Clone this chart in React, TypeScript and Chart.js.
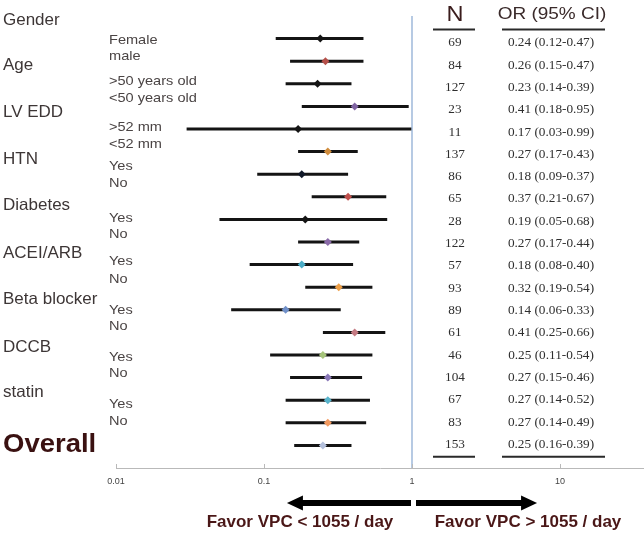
import React, { useEffect, useRef } from 'react';
import { Chart, registerables } from 'chart.js';

Chart.register(...registerables);

// ---------- data ----------
const groups = ['Gender', 'Age', 'LV EDD', 'HTN', 'Diabetes', 'ACEI/ARB', 'Beta blocker', 'DCCB', 'statin'];
const subLabels = [
  'Female', 'male', '>50 years old', '<50 years old', '>52 mm', '<52 mm',
  'Yes', 'No', 'Yes', 'No', 'Yes', 'No', 'Yes', 'No', 'Yes', 'No', 'Yes', 'No',
];
const overallLabel = 'Overall';
const nValues = [69, 84, 127, 23, 11, 137, 86, 65, 28, 122, 57, 93, 89, 61, 46, 104, 67, 83, 153];
const orValues = [0.24, 0.26, 0.23, 0.41, 0.17, 0.27, 0.18, 0.37, 0.19, 0.27, 0.18, 0.32, 0.14, 0.41, 0.25, 0.27, 0.27, 0.27, 0.25];
const ciLow = [0.12, 0.15, 0.14, 0.18, 0.03, 0.17, 0.09, 0.21, 0.05, 0.17, 0.08, 0.19, 0.06, 0.25, 0.11, 0.15, 0.14, 0.14, 0.16];
const ciHigh = [0.47, 0.47, 0.39, 0.95, 0.99, 0.43, 0.37, 0.67, 0.68, 0.44, 0.40, 0.54, 0.33, 0.66, 0.54, 0.46, 0.52, 0.49, 0.39];
const xTicks = [0.01, 0.1, 1, 10];
const headerN = 'N';
const headerOR = 'OR (95% CI)';
const arrowLeftLabel = 'Favor VPC < 1055 / day';
const arrowRightLabel = 'Favor VPC > 1055 / day';

// ---------- style / layout ----------
const markerColors = [
  '#141414', '#b5504a', '#141414', '#8064a2', '#141414', '#d08c3c', '#101828', '#c0504d', '#141414',
  '#8a6aa8', '#4bacc6', '#eea048', '#6f8fc8', '#c47a82', '#a6c47a', '#8a78b8', '#58b4cc', '#f29a60', '#b4c0dc',
];
const groupY = [0.21, 2.17, 4.28, 6.33, 8.39, 10.52, 12.54, 14.66, 16.67];
const overallY = 18.98;
const subY = [1.06, 1.8, 2.89, 3.63, 4.93, 5.68, 6.67, 7.4, 8.95, 9.66, 10.87, 11.65, 13.04, 13.75, 15.1, 15.83, 17.2, 17.92];
const tableFirst = 1.19;
const tableStep = 0.987;
const SANS = '"Liberation Sans", Arial, sans-serif';
const SERIF = '"Liberation Serif", "Times New Roman", serif';

function txt(ctx: CanvasRenderingContext2D, s: string, x: number, y: number, font: string, color: string, align: CanvasTextAlign, sx = 1) {
  ctx.save();
  ctx.translate(x, y);
  ctx.scale(sx, 1);
  ctx.font = font;
  ctx.fillStyle = color;
  ctx.textAlign = align;
  ctx.textBaseline = 'middle';
  ctx.fillText(s, 0, 0);
  ctx.restore();
}

function arrow(ctx: CanvasRenderingContext2D, x0: number, tip: number, y: number) {
  const dir = tip > x0 ? 1 : -1;
  const headLen = 16;
  const headHalf = 7.5;
  const shaftHalf = 3;
  const base = tip - dir * headLen;
  ctx.save();
  ctx.fillStyle = '#000';
  ctx.beginPath();
  ctx.moveTo(x0, y - shaftHalf);
  ctx.lineTo(base, y - shaftHalf);
  ctx.lineTo(base, y - headHalf);
  ctx.lineTo(tip, y);
  ctx.lineTo(base, y + headHalf);
  ctx.lineTo(base, y + shaftHalf);
  ctx.lineTo(x0, y + shaftHalf);
  ctx.closePath();
  ctx.fill();
  ctx.restore();
}

const overlayPlugin = {
  id: 'forestOverlay',
  afterDraw(chart: any) {
    const ctx: CanvasRenderingContext2D = chart.ctx;
    const xs = chart.scales.x;
    const ys = chart.scales.y;
    const area = chart.chartArea;

    // small up-ticks on the axis
    ctx.save();
    ctx.strokeStyle = '#b9b9b9';
    ctx.lineWidth = 1;
    xTicks.forEach((v) => {
      const px = Math.round(xs.getPixelForValue(v)) + 0.5;
      ctx.beginPath();
      ctx.moveTo(px, area.bottom);
      ctx.lineTo(px, area.bottom - 4);
      ctx.stroke();
    });
    ctx.restore();

    // group headings
    groups.forEach((g, i) => {
      txt(ctx, g, 3, ys.getPixelForValue(groupY[i]), `16.5px ${SANS}`, '#3d3636', 'left', 1.03);
    });
    txt(ctx, overallLabel, 3, ys.getPixelForValue(overallY), `bold 25px ${SANS}`, '#3a1111', 'left', 1.1);
    subLabels.forEach((s, i) => {
      txt(ctx, s, 109, ys.getPixelForValue(subY[i]), `13px ${SANS}`, '#4a4444', 'left', 1.12);
    });

    // table
    const nX = 455;
    const orX = 551;
    txt(ctx, headerN, nX, ys.getPixelForValue(-0.05), `22px ${SANS}`, '#3a1c1c', 'center', 1.07);
    txt(ctx, headerOR, 552, ys.getPixelForValue(-0.05), `16.5px ${SANS}`, '#3a2a2a', 'center', 1.15);
    nValues.forEach((n, i) => {
      const y = ys.getPixelForValue(tableFirst + i * tableStep);
      txt(ctx, String(n), nX, y, `13px ${SERIF}`, '#2e2e2e', 'center', 1.02);
      const s = `${orValues[i].toFixed(2)} (${ciLow[i].toFixed(2)}-${ciHigh[i].toFixed(2)})`;
      txt(ctx, s, orX, y, `13px ${SERIF}`, '#2e2e2e', 'center', 1.02);
    });
    ctx.save();
    ctx.strokeStyle = '#2a2a2a';
    ctx.lineWidth = 2;
    const topY = ys.getPixelForValue(0.6);
    const botY = ys.getPixelForValue(19.5);
    [topY, botY].forEach((yy) => {
      ctx.beginPath();
      ctx.moveTo(433, yy);
      ctx.lineTo(475, yy);
      ctx.moveTo(502, yy);
      ctx.lineTo(605, yy);
      ctx.stroke();
    });
    ctx.restore();

    // arrows
    const one = xs.getPixelForValue(1);
    const ay = area.bottom + 35;
    arrow(ctx, one - 1, xs.getPixelForValue(1 / 7), ay);
    arrow(ctx, one + 4, xs.getPixelForValue(7), ay);
    txt(ctx, arrowLeftLabel, 300, area.bottom + 54, `bold 17px ${SANS}`, '#4a1717', 'center', 1);
    txt(ctx, arrowRightLabel, 528, area.bottom + 54, `bold 17px ${SANS}`, '#4a1717', 'center', 1);
  },
};

export default function App() {
  const ref = useRef<HTMLCanvasElement | null>(null);

  useEffect(() => {
    if (!ref.current) return;
    const ciSets = orValues.map((_, i) => ({
      type: 'line' as const,
      data: [
        { x: ciLow[i], y: i + 1 },
        { x: ciHigh[i], y: i + 1 },
      ],
      borderColor: '#141414',
      borderWidth: 3,
      pointRadius: 0,
      fill: false,
      order: 2,
    }));
    const chart = new Chart(ref.current, {
      type: 'scatter',
      data: {
        datasets: [
          {
            type: 'line',
            data: [
              { x: 1, y: -0.05 },
              { x: 1, y: 20 },
            ],
            borderColor: '#9fb9da',
            borderWidth: 1.5,
            pointRadius: 0,
            fill: false,
            order: 3,
          } as any,
          ...ciSets,
          {
            type: 'scatter',
            data: orValues.map((v, i) => ({ x: v, y: i + 1 })),
            pointStyle: 'rectRot',
            pointRadius: 4,
            backgroundColor: markerColors,
            borderWidth: 0,
            order: 1,
          } as any,
        ],
      },
      options: {
        responsive: false,
        maintainAspectRatio: false,
        animation: false,
        layout: { autoPadding: false, padding: { top: 16, right: 0, left: 0, bottom: 0 } },
        plugins: { legend: { display: false }, tooltip: { enabled: false } },
        scales: {
          x: {
            type: 'logarithmic',
            min: 0.01,
            max: 36.95,
            afterBuildTicks: (s: any) => {
              s.ticks = xTicks.map((v) => ({ value: v }));
            },
            afterFit: (s: any) => {
              s.height = 65;
              s.paddingLeft = 0;
              s.paddingRight = 0;
            },
            ticks: {
              autoSkip: false,
              maxRotation: 0,
              padding: 8,
              color: '#444',
              font: { size: 9, family: SANS },
              callback: (v: any) => String(v),
            },
            grid: { display: false, drawTicks: false },
            border: { display: true, color: '#b9b9b9', width: 1 },
          },
          y: {
            type: 'linear',
            min: 0,
            max: 20,
            reverse: true,
            afterFit: (s: any) => {
              s.width = 116;
              s.paddingTop = 0;
              s.paddingBottom = 0;
            },
            ticks: { display: false },
            grid: { display: false },
            border: { display: false },
          },
        },
      } as any,
      plugins: [overlayPlugin],
    });
    return () => chart.destroy();
  }, []);

  return (
    <div style={{ position: 'absolute', left: 0, top: 0, width: 644, height: 533, background: '#fff' }}>
      <canvas ref={ref} width={644} height={533} style={{ display: 'block', width: 644, height: 533 }} />
    </div>
  );
}
